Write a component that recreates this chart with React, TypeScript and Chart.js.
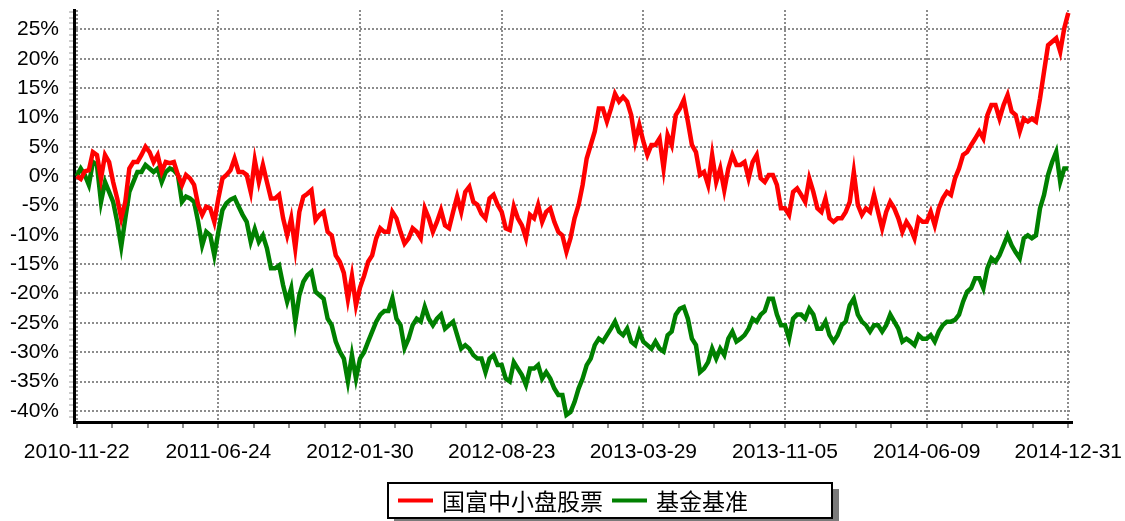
import React, { useEffect, useRef } from 'react';
import { Chart, registerables } from 'chart.js';

Chart.register(...registerables);

const tickDates = ['2010-11-22', '2011-06-24', '2012-01-30', '2012-08-23', '2013-03-29', '2013-11-05', '2014-06-09', '2014-12-31'];

const seriesNames = ['国富中小盘股票', '基金基准'];
const seriesColors = ['#FF0000', '#008000'];

// 国富中小盘股票 cumulative return (%)
const fundReturn = [
  0, -0.5, 0.8, 1.0, 4.1, 3.6, -0.4, 3.6, 2.4, -1.0, -3.8, -7.2, -4.4, 1.3, 2.4, 2.4, 3.6, 5.0, 4.1, 2.4,
  3.6, 0.7, 2.4, 2.2, 2.4, 0.2, -1.5, 0.2, -0.4, -1.5, -4.9, -6.6, -5.2, -5.5, -7.8, -3.8, -0.4, 0.2, 1.0, 3.0, 0.7,
  0.7, 0.2, -2.7, 2.7, -1.0, 1.9, -1.0, -3.8, -3.8, -3.2, -7.2, -10.1, -7.2, -12.3, -6.1, -3.5, -3.0, -2.4, -7.5, -6.6,
  -6.1, -9.5, -10.1, -13.5, -14.6, -16.5, -21.0, -17.0, -22.0, -19.0, -17.0, -14.6, -13.5, -10.6, -8.9, -9.5, -9.5, -6.1, -7.2, -9.5, -11.5,
  -10.6, -8.9, -9.5, -10.6, -5.5, -7.2, -9.5, -7.8, -5.8, -8.4, -8.9, -6.1, -3.5, -6.1, -2.7, -1.8, -4.4, -4.9, -6.4, -7.2,
  -3.8, -3.2, -4.9, -6.1, -8.9, -9.2, -5.2, -7.2, -8.4, -10.6, -6.6, -7.2, -4.9, -7.8, -6.1, -5.5, -7.8, -9.5, -10.1, -12.9, -10.6,
  -7.2, -4.9, -1.5, 3.0, 5.3, 7.6, 11.5, 11.5, 9.3, 11.5, 14.0, 12.7, 13.5, 12.7, 10.4, 5.9, 8.7, 5.9, 3.6, 5.3,
  5.3, 6.4, 1.3, 7.0, 5.3, 10.4, 11.5, 13.0, 9.3, 5.3, 4.1, 0.2, 0.7, -1.5, 3.6, -1.0, 1.3, -2.4, 1.3, 3.6, 1.9,
  1.9, 2.4, -0.4, 2.4, 3.6, -0.4, -1.0, 0.2, 0.2, -1.5, -5.5, -5.5, -6.6, -2.7, -2.1, -3.2, -4.4, -0.4, -2.7, -5.5,
  -6.1, -3.8, -7.2, -7.8, -7.2, -7.2, -6.1, -4.4, 0.7, -4.9, -6.6, -5.5, -6.1, -3.2, -6.1, -8.9, -6.1, -4.4, -5.5, -7.2, -9.5,
  -7.8, -8.9, -10.6, -7.2, -7.8, -7.8, -6.1, -8.4, -5.5, -3.8, -2.7, -3.2, -0.4, 1.3, 3.6, 4.1, 5.3, 6.4, 7.6, 6.4,
  10.4, 12.1, 12.1, 9.8, 12.1, 13.8, 11.0, 10.4, 7.6, 9.8, 9.3, 9.8, 9.3, 13.2, 17.8, 22.3, 22.9, 23.5, 21.2, 25.2, 27.8,
];

// 基金基准 cumulative return (%)
const benchmarkReturn = [
  0, 1.3, 0.2, -1.5, 2.4, 1.9, -4.4, -1.0, -2.7, -4.4, -7.8, -12.0, -7.2, -2.7, -1.0, 0.7, 0.7, 1.9, 1.3, 0.7,
  1.3, -1.0, 0.7, 1.3, 1.0, 0.2, -4.4, -3.5, -3.8, -4.4, -7.8, -11.8, -9.5, -10.1, -13.5, -9.5, -5.8, -4.6, -4.0, -3.7, -5.2,
  -6.6, -7.8, -11.2, -9.0, -11.2, -10.1, -12.3, -15.7, -15.7, -15.2, -18.6, -21.4, -19.1, -24.8, -20.3, -18.0, -16.9, -16.3, -19.7, -20.3,
  -20.9, -24.3, -25.4, -28.2, -29.9, -31.1, -35.0, -30.5, -34.5, -31.1, -30.0, -28.2, -26.5, -24.8, -23.6, -23.0, -23.0, -20.8, -24.3, -25.4, -29.3,
  -27.7, -25.4, -24.3, -24.8, -22.3, -24.3, -25.4, -24.3, -23.6, -26.0, -25.4, -24.8, -27.1, -29.4, -28.8, -29.4, -30.5, -31.1, -31.1, -33.4,
  -31.1, -30.5, -32.2, -32.2, -34.5, -35.0, -31.7, -32.8, -33.9, -35.6, -32.8, -32.8, -32.2, -34.5, -33.4, -34.5, -36.2, -37.3, -37.3, -40.7, -40.2,
  -38.5, -36.2, -34.5, -32.2, -31.1, -28.8, -27.7, -28.2, -27.1, -26.0, -24.8, -26.5, -27.1, -26.0, -28.2, -28.8, -26.5, -28.2, -28.8, -29.4,
  -28.2, -29.4, -29.9, -27.1, -26.5, -23.6, -22.6, -22.3, -24.3, -27.7, -28.8, -33.4, -32.8, -31.7, -29.4, -31.1, -29.4, -30.5, -27.7, -26.5, -28.2,
  -27.7, -27.1, -26.0, -24.3, -24.8, -23.6, -23.0, -20.9, -20.9, -23.6, -25.4, -25.4, -27.7, -24.3, -23.6, -23.6, -24.3, -22.6, -23.6, -26.0,
  -26.0, -24.8, -27.1, -28.2, -27.1, -25.4, -24.8, -22.0, -20.9, -23.6, -24.8, -25.4, -26.5, -25.4, -25.4, -26.5, -25.4, -23.6, -24.8, -26.0, -28.2,
  -27.7, -28.2, -28.8, -27.1, -27.7, -27.7, -27.1, -28.2, -26.5, -25.4, -24.8, -24.8, -24.5, -23.6, -21.4, -19.7, -19.1, -17.4, -17.4, -19.1,
  -15.7, -14.0, -14.6, -13.5, -11.8, -10.1, -11.8, -13.0, -14.0, -10.6, -10.1, -10.6, -10.1, -5.5, -3.2, 0.2, 2.4, 4.1, -1.0, 1.3, 1.3,
];

const yMin = -41.9;
const yMax = 28.3;
const yLabelStep = 5;

const lastIndex = fundReturn.length - 1;
const pointsPerTick = lastIndex / (tickDates.length - 1);
const minorPerMajor = 4;

const isMajorX = (v: number) => Math.abs(v / pointsPerTick - Math.round(v / pointsPerTick)) < 1e-6;
const isMajorY = (v: number) => Math.abs(v % yLabelStep) < 1e-6;

const boxedLegend = {
  id: 'boxedLegend',
  afterDraw(chart: any) {
    const ctx = chart.ctx as CanvasRenderingContext2D;
    const x = 388, y = 483, w = 444, h = 35;
    ctx.save();
    ctx.fillStyle = '#7a7a7a';
    ctx.fillRect(x + 6, y + 6, w + 1, h + 3);
    ctx.fillStyle = '#ffffff';
    ctx.fillRect(x, y, w, h);
    ctx.strokeStyle = '#000000';
    ctx.lineWidth = 2;
    ctx.strokeRect(x, y, w, h);
    ctx.font = '23px "Noto Sans CJK SC"';
    ctx.textBaseline = 'middle';
    ctx.textAlign = 'left';
    let cx = x + 10;
    const cy = y + 17.5;
    seriesNames.forEach((name, i) => {
      ctx.strokeStyle = seriesColors[i];
      ctx.lineWidth = 4;
      ctx.beginPath();
      ctx.moveTo(cx, cy);
      ctx.lineTo(cx + 35, cy);
      ctx.stroke();
      cx += 44;
      ctx.fillStyle = '#000000';
      ctx.fillText(name, cx, cy + 1);
      cx += ctx.measureText(name).width + 9;
    });
    ctx.restore();
  },
};

export default function App() {
  const canvasRef = useRef<HTMLCanvasElement | null>(null);

  useEffect(() => {
    if (!canvasRef.current) return;
    const tickFont = { family: '"Liberation Sans", Arial, sans-serif', size: 21 };
    const chart = new Chart(canvasRef.current, {
      type: 'line',
      data: {
        datasets: [
          {
            label: seriesNames[0],
            data: fundReturn.map((v, i) => ({ x: i, y: v })),
            borderColor: seriesColors[0],
            backgroundColor: seriesColors[0],
            borderWidth: 4.5,
            pointRadius: 0,
            tension: 0,
            order: 0,
          },
          {
            label: seriesNames[1],
            data: benchmarkReturn.map((v, i) => ({ x: i, y: v })),
            borderColor: seriesColors[1],
            backgroundColor: seriesColors[1],
            borderWidth: 4.5,
            pointRadius: 0,
            tension: 0,
            order: 1,
          },
        ],
      },
      options: {
        animation: false,
        responsive: true,
        maintainAspectRatio: false,
        layout: { padding: { top: 10, right: 53, bottom: 59, left: 0 } },
        plugins: {
          legend: { display: false },
          tooltip: { enabled: false },
        },
        scales: {
          x: {
            type: 'linear',
            min: -0.67,
            max: lastIndex + 0.91,
            afterBuildTicks: (scale: any) => {
              const step = pointsPerTick / minorPerMajor;
              const ticks = [];
              for (let k = 0; k <= (tickDates.length - 1) * minorPerMajor; k++) ticks.push({ value: k * step });
              scale.ticks = ticks;
            },
            afterFit: (scale: any) => {
              scale.height = 40;
              scale.paddingLeft = 0;
              scale.paddingRight = 0;
            },
            ticks: {
              autoSkip: false,
              maxRotation: 0,
              minRotation: 0,
              padding: 12,
              color: '#000',
              font: tickFont,
              callback: (value: any) => {
                const v = Number(value);
                return isMajorX(v) ? tickDates[Math.round(v / pointsPerTick)] : '';
              },
            },
            grid: {
              color: (ctx: any) => (ctx.tick && isMajorX(ctx.tick.value) ? '#8c8c8c' : 'rgba(0,0,0,0)'),
              lineWidth: 2,
              tickColor: '#8c8c8c',
              tickWidth: 2,
              tickLength: 6,
              drawTicks: true,
            },
            border: { display: true, color: '#000', width: 3, dash: [2, 2] },
          },
          y: {
            type: 'linear',
            min: yMin,
            max: yMax,
            afterBuildTicks: (scale: any) => {
              const ticks = [];
              for (let v = Math.ceil(yMin); v <= Math.floor(yMax); v++) ticks.push({ value: v });
              scale.ticks = ticks;
            },
            afterFit: (scale: any) => {
              scale.width = 74;
              scale.paddingTop = 0;
              scale.paddingBottom = 0;
            },
            ticks: {
              autoSkip: false,
              padding: 10,
              color: '#000',
              font: tickFont,
              callback: (value: any) => {
                const v = Number(value);
                return isMajorY(v) ? `${v}%` : '';
              },
            },
            grid: {
              color: (ctx: any) => (ctx.tick && isMajorY(ctx.tick.value) ? '#8c8c8c' : 'rgba(0,0,0,0)'),
              lineWidth: 2,
              tickColor: '#9a9a9a',
              tickWidth: 1,
              tickLength: 5,
              drawTicks: true,
            },
            border: { display: true, color: '#000', width: 3, dash: [2, 2] },
          },
        },
      },
      plugins: [boxedLegend],
    } as any);
    return () => chart.destroy();
  }, []);

  return (
    <div style={{ position: 'fixed', left: 0, top: 0, width: 1125, height: 521, background: '#fff' }}>
      <canvas ref={canvasRef} />
    </div>
  );
}
